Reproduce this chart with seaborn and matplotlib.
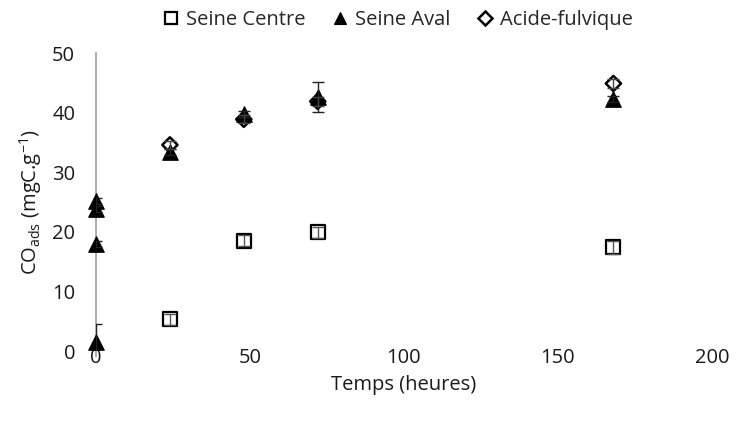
import matplotlib
matplotlib.use("Agg")
import matplotlib.pyplot as plt
from matplotlib.lines import Line2D
import seaborn as sns
import pandas as pd

# Adsorbed organic carbon over time for three organic matter sources
centre_t = [24, 48, 72, 168]
centre_co = [5.3, 18.5, 19.9, 17.4]
centre_err = [0.9, 0.9, 0.9, 1.1]

aval_t = [0, 0, 0, 0, 24, 48, 72, 168]
aval_co = [1.5, 18.0, 23.8, 25.2, 33.4, 39.8, 42.6, 42.3]
aval_err = [3.0, 0.5, 0.5, 0.5, 0.5, 0.5, 2.5, 0.5]

fulvique_t = [24, 48, 72, 168]
fulvique_co = [34.6, 38.9, 41.9, 44.9]
fulvique_err = [0.7, 0.7, 0.7, 0.7]

x_ticks = [0, 50, 100, 150, 200]
y_ticks = [0, 10, 20, 30, 40, 50]

sns.set_theme(style="white")
plt.rcParams["font.family"] = ["Open Sans", "DejaVu Sans"]
FS = 14.5
TXT = "#1a1a1a"

fig = plt.figure(figsize=(7.4, 4.25), dpi=100)
ax = fig.add_axes([0.1297, 0.174, 0.8324, 0.701])

# name, x, y, err, marker, face, scatter size, edge width, errorbar colour, legend marker size
series = [
    ("Seine Centre", centre_t, centre_co, centre_err, "s", "white", 100, 1.6, "#555555", 9),
    ("Seine Aval", aval_t, aval_co, aval_err, "^", "black", 125, 0.8, "#222222", 9),
    ("Acide-fulvique", fulvique_t, fulvique_co, fulvique_err, "D", "none", 60, 1.8, "#444444", 7),
]

legend_handles = []
for name, t, co, err, marker, face, size, lw, ecol, ms in series:
    df = pd.DataFrame({"Temps": t, "CO": co})
    sns.scatterplot(data=df, x="Temps", y="CO", ax=ax, marker=marker, s=size,
                    facecolor=face, edgecolor="black", linewidth=lw,
                    zorder=3, clip_on=False, legend=False)
    ax.errorbar(t, co, yerr=err, fmt="none", ecolor=ecol,
                elinewidth=1.0, capsize=4, capthick=1.0, zorder=4)
    legend_handles.append(Line2D([], [], linestyle="none", marker=marker,
                                 markersize=ms, markerfacecolor=face,
                                 markeredgecolor="black", markeredgewidth=lw,
                                 label=name))

ax.set_xlim(0, 200)
ax.set_ylim(0, 50)
ax.set_xticks(x_ticks)
ax.set_yticks(y_ticks)
ax.tick_params(axis="y", labelsize=FS, colors=TXT, length=0, pad=15)
ax.tick_params(axis="x", labelsize=FS, colors=TXT, length=0, pad=-2)
ax.set_xlabel("Temps (heures)", fontsize=FS, color=TXT, labelpad=5)
ax.set_ylabel(r"CO$_{\mathregular{ads}}$ (mgC.g$^{\mathregular{-1}}$)",
              fontsize=FS, color=TXT, labelpad=6)

for side in ["top", "right", "bottom"]:
    ax.spines[side].set_visible(False)
ax.spines["left"].set_color("#a6a6a6")
ax.spines["left"].set_linewidth(1.3)
ax.spines["left"].set_position(("data", 0))
ax.spines["left"].set_bounds(-0.8, 50)
ax.spines["left"].set_zorder(1)

ax.legend(handles=legend_handles, loc="lower center", bbox_to_anchor=(0.487, 1.05),
          ncol=3, frameon=False, fontsize=FS, handletextpad=0.15,
          columnspacing=1.1, borderaxespad=0, handlelength=1.2)

fig.savefig("out.png", dpi=100)
